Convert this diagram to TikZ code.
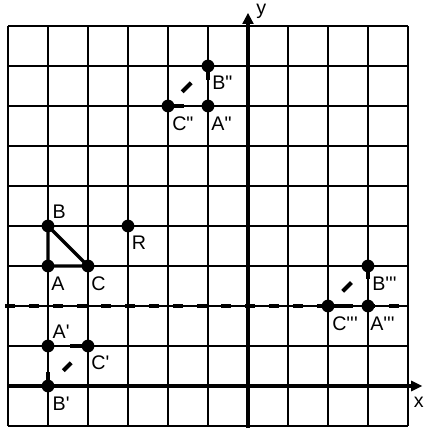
\documentclass[tikz,border=0pt]{standalone}
\usepackage{fontspec}
\newfontfamily\lblfont{Liberation Sans}
\usetikzlibrary{arrows.meta,calc}
\begin{document}
\begin{tikzpicture}[x=1cm,y=1cm,
  gridline/.style={line width=1.1pt},
  axis/.style={line width=2.8pt},
  tri/.style={line width=2.3pt},
  tdash/.style={line width=2.9pt},
  lbl/.style={font=\lblfont\fontsize{14}{16}\selectfont, inner sep=0pt, anchor=base west},
  axlbl/.style={font=\lblfont\fontsize{14}{16}\selectfont, inner sep=0pt}]
\useasboundingbox (-6.2,-1.05) rectangle (4.425,9.65);
\fill[white] (-6.2,-1.05) rectangle (4.425,9.65);
% points
\coordinate (A) at (-5,3);
\coordinate (B) at (-5,4);
\coordinate (C) at (-4,3);
\coordinate (R) at (-3,4);
\coordinate (A1) at (-5,1);
\coordinate (B1) at (-5,0);
\coordinate (C1) at (-4,1);
\coordinate (A2) at (-1,7);
\coordinate (B2) at (-1,8);
\coordinate (C2) at (-2,7);
\coordinate (A3) at (3,2);
\coordinate (B3) at (3,3);
\coordinate (C3) at (2,2);
\coordinate (dl) at (-6.07,2);
\coordinate (dr) at (4,2);
\coordinate (ybot) at (0,-1.05);
\coordinate (ytop) at (0,9.33);
\coordinate (xl) at (-6,0);
\coordinate (xr) at (4.36,0);
% grid
\draw[gridline] (-6,-1) grid (4,9);
% axes
\draw[axis,-{Triangle[length=0.28cm,width=0.27cm]}] (ybot) -- (ytop);
\draw[axis,-{Triangle[length=0.28cm,width=0.25cm]}] (xl) -- (xr);
\node[axlbl] (ylab) at (0.33,9.37) {y};
\node[axlbl] (xlab) at (4.27,-0.4) {x};
% mirror line
\draw[tdash, dash pattern=on 0.25cm off 0.35cm] (dl) -- (dr);
% triangle ABC
\draw[tri] (A) -- (B) -- (C) -- cycle;
% image triangles (dashed)
\draw[tdash, dash pattern=on 0.45cm off 3cm] (C1) -- (A1);
\draw[tdash, dash pattern=on 0.35cm off 3cm] (B1) -- (A1);
\draw[tdash, dash pattern=on 0pt off 0.54cm on 0.28cm off 3cm] (B1) -- (C1);
\draw[tdash, dash pattern=on 0.4cm off 3cm] (C2) -- (A2);
\draw[tdash, dash pattern=on 0.35cm off 3cm] (B2) -- (A2);
\draw[tdash, dash pattern=on 0pt off 0.5cm on 0.32cm off 3cm] (C2) -- (B2);
\draw[tdash, dash pattern=on 0.62cm off 3cm] (C3) -- (A3);
\draw[tdash, dash pattern=on 0.33cm off 3cm] (B3) -- (A3);
\draw[tdash, dash pattern=on 0pt off 0.52cm on 0.31cm off 3cm] (C3) -- (B3);
% dots
\foreach \p in {A,B,C,R,A1,B1,C1,A2,B2,C2,A3,B3,C3}
  \fill (\p) circle (0.16);
% labels
\node[lbl] (lA) at ($(A)+(0.08,-0.6)$) {A};
\node[lbl] (lB) at ($(B)+(0.11,0.2)$) {B};
\node[lbl] (lC) at ($(C)+(0.08,-0.6)$) {C};
\node[lbl] (lR) at ($(R)+(0.09,-0.6)$) {R};
\node[lbl] (lA1) at ($(A1)+(0.11,0.2)$) {A\textquotesingle};
\node[lbl] (lB1) at ($(B1)+(0.11,-0.6)$) {B\textquotesingle};
\node[lbl] (lC1) at ($(C1)+(0.08,-0.6)$) {C\textquotesingle};
\node[lbl] (lA2) at ($(A2)+(0.08,-0.6)$) {A\textquotedbl};
\node[lbl] (lB2) at ($(B2)+(0.1,-0.6)$) {B\textquotedbl};
\node[lbl] (lC2) at ($(C2)+(0.1,-0.6)$) {C\textquotedbl};
\node[lbl] (lA3) at ($(A3)+(0.05,-0.62)$) {A\textquotesingle\textquotesingle\textquotesingle};
\node[lbl] (lB3) at ($(B3)+(0.1,-0.62)$) {B\textquotesingle\textquotesingle\textquotesingle};
\node[lbl] (lC3) at ($(C3)+(0.1,-0.62)$) {C\textquotesingle\textquotesingle\textquotesingle};
\end{tikzpicture}
\end{document}
